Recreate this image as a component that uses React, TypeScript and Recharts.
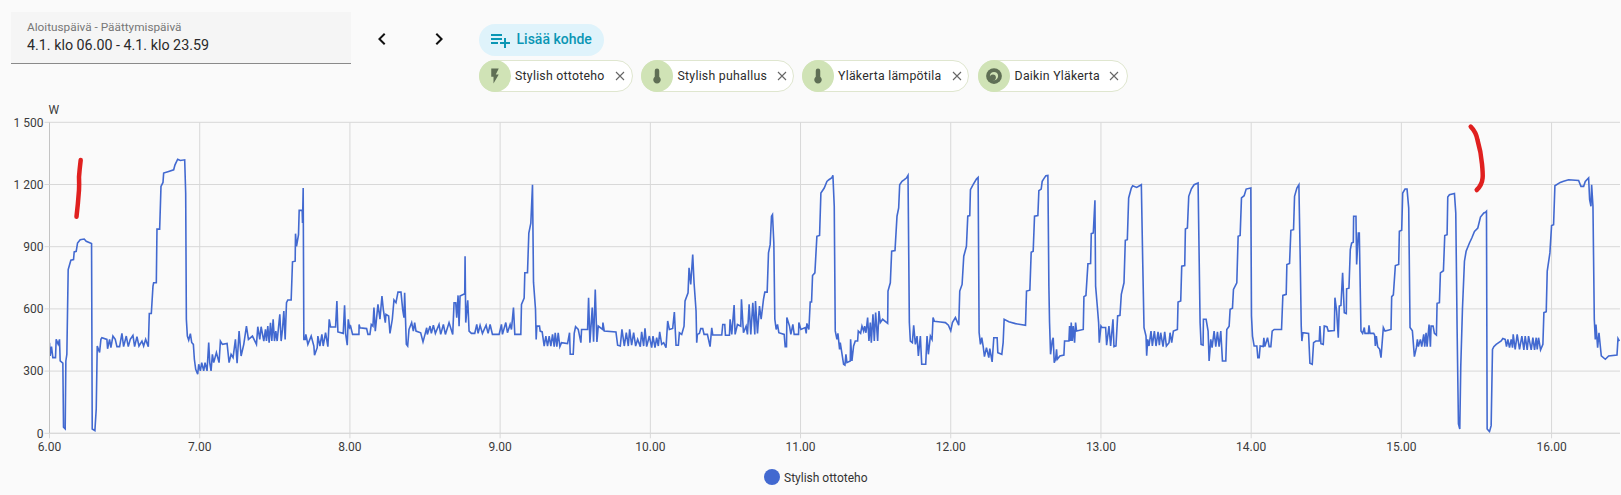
import React from "react";
import { LineChart, Line, XAxis, YAxis, CartesianGrid, Legend } from "recharts";

// Each hour: [seconds into the hour, watts].
const hour06: [number, number][] = [[0,437],[16,373],[48,418],[80,365],[144,365],[160,453],[208,429],[240,453],[256,349],[320,338],[336,29],[376,21],[392,349],[416,381],[448,790],[512,835],[576,838],[592,875],[640,878],[672,918],[736,934],[832,937],[880,926],[1008,915],[1024,21],[1088,13],[1120,117],[1144,421],[1200,390],[1232,453],[1256,461],[1376,453],[1392,408],[1440,453],[1472,413],[1520,469],[1576,453],[1616,418],[1680,418],[1736,482],[1776,418],[1840,469],[1888,418],[1936,453],[2000,472],[2040,418],[2096,466],[2144,421],[2216,445],[2256,421],[2304,453],[2368,418],[2392,578],[2440,578],[2480,710],[2496,726],[2560,726],[2576,985],[2640,985],[2672,1191],[2720,1210],[2736,1255],[2856,1263],[2976,1271],[3008,1295],[3072,1322],[3136,1316],[3240,1319],[3264,1158],[3280,550],[3304,469],[3336,449],[3376,481],[3408,438],[3448,429],[3472,357],[3504,309],[3552,285],[3576,333]];
const hour07: [number, number][] = [[16,301],[48,341],[96,301],[128,341],[176,301],[216,438],[240,341],[272,301],[304,381],[336,341],[400,389],[464,341],[496,445],[544,429],[656,433],[704,341],[752,381],[800,365],[856,453],[896,338],[944,493],[992,373],[1056,429],[1120,517],[1168,453],[1264,469],[1360,429],[1392,514],[1440,453],[1472,514],[1536,445],[1576,501],[1600,445],[1632,517],[1664,437],[1696,533],[1728,445],[1760,550],[1792,445],[1824,493],[1856,445],[1920,574],[1952,445],[1984,501],[2016,590],[2048,453],[2080,630],[2112,643],[2192,643],[2224,827],[2288,830],[2296,963],[2320,902],[2368,958],[2384,1075],[2456,1075],[2464,1014],[2480,1183],[2496,453],[2528,453],[2544,477],[2592,429],[2672,469],[2736,421],[2752,377],[2816,413],[2832,469],[2880,421],[2928,477],[2960,421],[3016,485],[3072,418],[3104,550],[3136,513],[3256,513],[3288,638],[3312,489],[3440,482],[3472,617],[3496,482],[3536,425],[3560,550],[3592,510]];
const hour08: [number, number][] = [[16,517],[64,477],[216,477],[220,525],[240,509],[400,505],[432,477],[480,477],[512,525],[552,517],[576,606],[608,493],[672,622],[720,550],[768,662],[800,598],[848,534],[864,574],[928,566],[960,482],[1016,550],[1056,643],[1104,630],[1152,681],[1224,681],[1264,598],[1296,558],[1312,678],[1352,430],[1384,421],[1416,501],[1480,534],[1520,493],[1552,534],[1584,493],[1696,485],[1752,441],[1800,477],[1840,509],[1856,477],[1920,517],[1952,482],[2000,521],[2048,482],[2136,525],[2176,477],[2240,525],[2288,477],[2376,534],[2464,477],[2496,630],[2536,630],[2560,558],[2592,665],[2616,517],[2640,662],[2752,673],[2760,854],[2776,534],[2824,641],[2856,493],[2912,482],[2992,482],[3040,525],[3072,482],[3120,521],[3176,482],[3264,521],[3312,482],[3360,525],[3416,477],[3576,477]];
const hour09: [number, number][] = [[32,525],[56,477],[136,534],[176,485],[240,525],[272,501],[320,606],[352,477],[496,477],[512,622],[576,652],[592,774],[656,774],[688,966],[736,1014],[776,1199],[800,729],[848,598],[864,453],[880,517],[944,517],[960,493],[1008,489],[1056,421],[1096,469],[1136,421],[1176,469],[1216,421],[1256,477],[1296,418],[1320,485],[1360,418],[1392,485],[1432,418],[1472,437],[1616,433],[1664,485],[1680,381],[1752,381],[1776,482],[1808,514],[1872,501],[1936,437],[1952,501],[2096,501],[2120,654],[2152,437],[2208,606],[2240,442],[2280,694],[2320,441],[2352,517],[2456,501],[2464,534],[2496,493],[2776,489],[2816,425],[2880,421],[2920,501],[2976,421],[3024,485],[3072,421],[3104,501],[3152,425],[3200,485],[3248,421],[3296,453],[3360,418],[3392,489],[3440,421],[3472,506],[3512,418],[3576,469]];
const hour10: [number, number][] = [[32,413],[64,469],[112,413],[152,461],[192,421],[224,489],[272,429],[320,437],[376,413],[416,542],[456,501],[536,506],[576,585],[616,425],[672,425],[696,485],[752,477],[808,517],[832,638],[904,678],[928,798],[968,718],[1016,862],[1048,726],[1096,590],[1112,437],[1128,477],[1176,482],[1208,505],[1256,505],[1288,477],[1368,477],[1432,418],[1472,509],[1496,474],[1712,474],[1736,525],[1784,525],[1800,473],[1896,473],[1912,550],[1952,477],[2008,619],[2032,477],[2088,525],[2168,517],[2184,646],[2232,485],[2296,517],[2328,477],[2368,622],[2408,477],[2456,630],[2504,477],[2520,638],[2568,482],[2616,614],[2656,550],[2712,646],[2744,681],[2800,681],[2832,870],[2872,910],[2904,1047],[2928,1055],[2960,918],[2984,550],[3016,501],[3048,525],[3080,485],[3208,477],[3232,418],[3264,418],[3272,558],[3336,517],[3368,477],[3416,525],[3448,477],[3552,477],[3560,534]];
const hour11: [number, number][] = [[8,501],[112,510],[136,482],[152,530],[200,501],[232,633],[264,633],[288,761],[344,774],[392,950],[456,954],[488,1159],[568,1183],[632,1215],[680,1223],[752,1233],[776,1244],[808,1095],[832,494],[872,453],[896,482],[936,405],[952,437],[1032,333],[1064,329],[1088,381],[1112,341],[1192,349],[1200,453],[1232,349],[1272,421],[1312,445],[1368,445],[1384,493],[1440,482],[1472,517],[1512,493],[1536,517],[1568,485],[1608,558],[1640,445],[1672,534],[1696,437],[1736,574],[1768,445],[1800,582],[1848,445],[1880,590],[1912,534],[1968,550],[2088,530],[2096,686],[2152,726],[2184,878],[2264,881],[2312,1047],[2352,1087],[2376,1199],[2432,1215],[2488,1223],[2536,1231],[2576,1244],[2608,534],[2632,445],[2680,437],[2712,521],[2752,429],[2792,469],[2824,373],[2872,469],[2904,333],[3000,333],[3032,469],[3064,381],[3112,469],[3152,453],[3176,558],[3208,540],[3352,537],[3472,534],[3544,521]];
const hour12: [number, number][] = [[0,494],[40,534],[112,558],[192,521],[216,686],[272,718],[312,854],[376,902],[408,1047],[456,1050],[472,1175],[536,1199],[616,1226],[656,1234],[680,486],[712,429],[744,461],[776,421],[808,370],[856,413],[912,365],[936,408],[992,344],[1032,461],[1112,461],[1128,389],[1224,381],[1256,437],[1280,550],[1392,538],[1552,529],[1792,521],[1816,686],[1896,690],[1928,873],[1976,878],[2008,1047],[2088,1050],[2112,1170],[2168,1178],[2192,1215],[2240,1231],[2280,1242],[2328,1244],[2352,710],[2368,534],[2392,381],[2432,445],[2456,461],[2480,341],[2512,357],[2536,405],[2552,357],[2616,373],[2712,377],[2728,445],[2832,445],[2848,517],[2872,445],[2888,534],[2912,445],[2936,517],[2968,437],[2992,534],[3016,493],[3176,501],[3192,659],[3240,665],[3288,818],[3352,819],[3368,963],[3416,966],[3456,1124],[3472,710],[3512,614],[3544,534],[3560,437]];
const hour13: [number, number][] = [[0,517],[24,510],[112,510],[136,425],[192,517],[232,421],[288,550],[312,418],[360,421],[400,566],[456,569],[488,670],[552,726],[584,931],[632,934],[664,1135],[728,1183],[760,1194],[856,1186],[968,1199],[1000,838],[1032,510],[1080,469],[1096,374],[1120,453],[1152,421],[1200,493],[1232,421],[1280,493],[1320,421],[1368,489],[1400,425],[1432,485],[1488,418],[1528,489],[1568,421],[1632,437],[1656,485],[1696,437],[1736,493],[1832,501],[1848,633],[1912,638],[1936,806],[2008,809],[2024,985],[2072,990],[2104,1143],[2168,1179],[2232,1199],[2328,1207],[2376,534],[2400,429],[2448,425],[2456,550],[2520,550],[2568,493],[2592,349],[2632,453],[2664,413],[2712,493],[2752,418],[2792,489],[2832,418],[2872,493],[2912,349],[2992,349],[3016,501],[3072,517],[3096,598],[3152,603],[3176,694],[3256,726],[3288,950],[3336,954],[3368,1135],[3432,1146],[3480,1178],[3592,1183]];
const hour14: [number, number][] = [[8,566],[32,469],[72,421],[136,421],[160,365],[192,365],[216,421],[288,418],[304,461],[328,418],[392,461],[432,418],[472,418],[504,493],[552,501],[728,501],[760,665],[840,670],[856,814],[920,819],[952,979],[1016,982],[1040,1143],[1096,1183],[1144,1199],[1176,838],[1200,518],[1216,445],[1240,485],[1376,482],[1408,338],[1464,333],[1496,437],[1552,445],[1632,445],[1648,517],[1672,432],[1728,429],[1752,517],[1816,514],[1848,493],[1992,496],[2008,654],[2048,590],[2088,461],[2112,614],[2152,617],[2192,774],[2232,582],[2280,578],[2288,697],[2344,700],[2376,886],[2408,918],[2448,922],[2456,1047],[2512,1047],[2528,814],[2568,966],[2592,966],[2632,494],[2672,482],[2712,510],[2728,482],[2808,482],[2824,521],[2848,482],[2936,482],[2960,473],[2976,421],[3000,469],[3032,418],[3080,405],[3112,365],[3168,510],[3208,493],[3352,501],[3368,659],[3408,668],[3456,809],[3536,814],[3552,974]];
const hour15: [number, number][] = [[8,979],[32,1159],[88,1178],[136,1178],[176,1087],[208,510],[264,494],[312,370],[360,413],[384,453],[408,418],[456,453],[488,418],[536,477],[560,418],[592,485],[616,418],[664,525],[696,418],[712,517],[760,517],[792,482],[840,474],[856,627],[912,630],[936,774],[1008,784],[1040,954],[1096,958],[1112,1140],[1152,1151],[1272,1157],[1304,1063],[1336,502],[1368,45],[1400,21],[1424,325],[1464,598],[1512,830],[1552,878],[1632,918],[1688,942],[1752,974],[1832,990],[1896,1043],[1976,1063],[2016,1066],[2040,1071],[2056,21],[2112,8],[2152,37],[2184,405],[2216,418],[2272,429],[2392,445],[2432,457],[2488,453],[2520,418],[2552,453],[2592,413],[2632,453],[2664,413],[2680,477],[2728,405],[2776,477],[2832,405],[2888,469],[2936,402],[2968,469],[3016,402],[3048,469],[3112,402],[3152,461],[3192,402],[3232,461],[3256,405],[3288,461],[3336,402],[3392,429],[3416,582],[3472,586],[3496,782],[3560,870]];
const hour16: [number, number][] = [[0,1002],[48,1006],[80,1194],[208,1210],[288,1216],[408,1223],[648,1219],[704,1191],[768,1191],[808,1215],[888,1232],[912,1127],[944,1095],[960,1199],[992,1095],[1024,550],[1048,453],[1064,525],[1104,413],[1136,485],[1192,373],[1288,357],[1368,373],[1568,378],[1592,457],[1624,445]];

const hours = [hour06, hour07, hour08, hour09, hour10, hour11, hour12, hour13, hour14, hour15, hour16];
const xTickLabels = ["6.00", "7.00", "8.00", "9.00", "10.00", "11.00", "12.00", "13.00", "14.00", "15.00", "16.00"];
const yTicks = [0, 300, 600, 900, 1200, 1500];
const yTickLabels = ["0", "300", "600", "900", "1 200", "1 500"];
const seriesName = "Stylish ottoteho";
const chipNames = ["Stylish ottoteho", "Stylish puhallus", "Yläkerta lämpötila", "Daikin Yläkerta"];
const SECONDS_PER_HOUR = 3600;
const END_SECONDS = 37640;

const rows = hours.flatMap((list, h) =>
  list.map(([s, w]) => ({ t: h * SECONDS_PER_HOUR + s, watts: w }))
);
const xTicks = xTickLabels.map((_, i) => i * SECONDS_PER_HOUR);

const FONT = "Roboto, sans-serif";
const GRID = "#d8d8d8";
const ICON = "#5f6f55";

const flash = "M7,2V13H10V22L17,10H13L17,2H7Z";
const thermometer = "M15 13V5A3 3 0 0 0 9 5V13A5 5 0 1 0 15 13Z";
const chipLayout = [
  { left: 479, width: 154, text: 515, close: 620, icon: flash },
  { left: 641, width: 153, text: 677.5, close: 782, icon: thermometer },
  { left: 802, width: 167, text: 838, close: 957, icon: thermometer },
  { left: 978, width: 150, text: 1014.6, close: 1114, icon: "" },
];

function Chip({ i }: { i: number }) {
  const c = chipLayout[i];
  return (
    <>
      <div style={{ position: "absolute", left: c.left, top: 60, width: c.width, height: 32, boxSizing: "border-box", background: "#fff", border: "1px solid #dfe6cf", borderRadius: 16 }} />
      <div style={{ position: "absolute", left: c.left, top: 60, width: 32, height: 32, borderRadius: 16, background: "#d0e3b6" }}>
        <svg width={18} height={18} viewBox="0 0 24 24" style={{ position: "absolute", left: 7, top: 7 }}>
          {c.icon ? (
            <path d={c.icon} fill={ICON} />
          ) : (
            <g>
              <circle cx={12} cy={12} r={10.5} fill={ICON} />
              <circle cx={12} cy={12} r={5.5} fill="#d0e3b6" />
              <circle cx={10.5} cy={14} r={4} fill={ICON} />
            </g>
          )}
        </svg>
      </div>
      <div style={{ position: "absolute", left: c.text, top: 60, height: 32, lineHeight: "32px", fontSize: 12.3, letterSpacing: 0.25, color: "#2c2c2c", fontFamily: FONT, whiteSpace: "nowrap" }}>{chipNames[i]}</div>
      <svg width={12} height={12} viewBox="0 0 12 12" style={{ position: "absolute", left: c.close - 6, top: 70 }}>
        <path d="M2 2L10 10M10 2L2 10" stroke="#666" strokeWidth={1.1} fill="none" />
      </svg>
    </>
  );
}

export default function App() {
  return (
    <div style={{ position: "absolute", left: 0, top: 0, width: 1621, height: 495, overflow: "hidden", background: "#fafafa", fontFamily: FONT }}>
      <LineChart width={1621} height={495} data={rows} margin={{ top: 122.3, right: 1, bottom: 0, left: 0 }}>
        <CartesianGrid stroke={GRID} strokeWidth={1} horizontalValues={yTicks} verticalValues={xTicks} />
        <XAxis
          dataKey="t"
          type="number"
          domain={[0, END_SECONDS]}
          ticks={xTicks}
          height={42.7}
          interval={0}
          tickSize={5}
          tickMargin={4}
          tickLine={{ stroke: GRID }}
          axisLine={{ stroke: GRID }}
          tick={{ fontSize: 12, fill: "#3a3a3a", fontFamily: FONT }}
          tickFormatter={(_v: number, i: number) => xTickLabels[i]}
          allowDataOverflow
        />
        <YAxis
          type="number"
          domain={[0, 1500]}
          ticks={yTicks}
          width={49.5}
          interval={0}
          tickSize={5}
          tickMargin={1}
          tickLine={{ stroke: GRID }}
          axisLine={{ stroke: "#c4c4c4" }}
          tick={{ fontSize: 12, fill: "#3a3a3a", fontFamily: FONT }}
          tickFormatter={(_v: number, i: number) => yTickLabels[i]}
          label={{ value: "W", position: "top", dx: 29, offset: 8, fontSize: 12, fill: "#3a3a3a", fontFamily: FONT }}
        />
        <Line
          dataKey="watts"
          name={seriesName}
          type="linear"
          stroke="#4269d0"
          strokeWidth={1.6}
          dot={false}
          isAnimationActive={false}
        />
        <Legend
          layout="horizontal"
          align="left"
          verticalAlign="bottom"
          iconType="circle"
          iconSize={16}
          height={0}
          wrapperStyle={{ left: 764, top: 466.5, width: "auto", margin: 0 }}
          formatter={(v: string) => <span style={{ color: "#333", fontSize: 12, fontFamily: FONT }}>{v}</span>}
        />
      </LineChart>

      <div style={{ position: "absolute", left: 11, top: 12, width: 340, height: 52, boxSizing: "border-box", background: "#f5f5f5", borderBottom: "1px solid #8a8a8a" }} />
      <div style={{ position: "absolute", left: 27, top: 20, fontSize: 11.8, lineHeight: "14px", color: "#777", whiteSpace: "nowrap" }}>Aloituspäivä - Päättymispäivä</div>
      <div style={{ position: "absolute", left: 27, top: 36, fontSize: 14.3, lineHeight: "18px", color: "#2a2a2a", whiteSpace: "nowrap" }}>4.1. klo 06.00 - 4.1. klo 23.59</div>

      <svg width={24} height={24} viewBox="0 0 24 24" style={{ position: "absolute", left: 370, top: 27 }}>
        <path d="M15.41,16.58L10.83,12L15.41,7.41L14,6L8,12L14,18L15.41,16.58Z" fill="#111" />
      </svg>
      <svg width={24} height={24} viewBox="0 0 24 24" style={{ position: "absolute", left: 427, top: 27 }}>
        <path d="M8.59,16.58L13.17,12L8.59,7.41L10,6L16,12L10,18L8.59,16.58Z" fill="#111" />
      </svg>

      <div style={{ position: "absolute", left: 479, top: 24, width: 125, height: 32, borderRadius: 16, background: "#dff3fb" }} />
      <svg width={24} height={24} viewBox="0 0 24 24" style={{ position: "absolute", left: 488, top: 28 }}>
        <path d="M14 10H3V12H14V10M14 6H3V8H14V6M18 14V10H16V14H12V16H16V20H18V16H22V14H18M3 16H10V14H3V16Z" fill="#0a96b4" />
      </svg>
      <div style={{ position: "absolute", left: 516.5, top: 24, height: 32, lineHeight: "31px", fontSize: 14, fontWeight: 500, color: "#0a96b4", whiteSpace: "nowrap" }}>Lisää kohde</div>

      {chipNames.map((_, i) => <Chip key={i} i={i} />)}

      {/* hand-drawn red annotation strokes on the screenshot, not chart data */}
      <svg width={1621} height={495} style={{ position: "absolute", left: 0, top: 0, pointerEvents: "none" }}>
        <path d="M80.7 160 Q79.5 170 79 177 Q79.3 184 79 190 Q78 204 76.5 216.7" stroke="#e0201f" strokeWidth={4.5} fill="none" strokeLinecap="round" />
        <path d="M1470.7 126.7 Q1476 132 1477.5 140 Q1481 152 1482 164 Q1483 174 1482.6 178 Q1482 185 1476.7 190" stroke="#e0201f" strokeWidth={4.5} fill="none" strokeLinecap="round" />
      </svg>
    </div>
  );
}
